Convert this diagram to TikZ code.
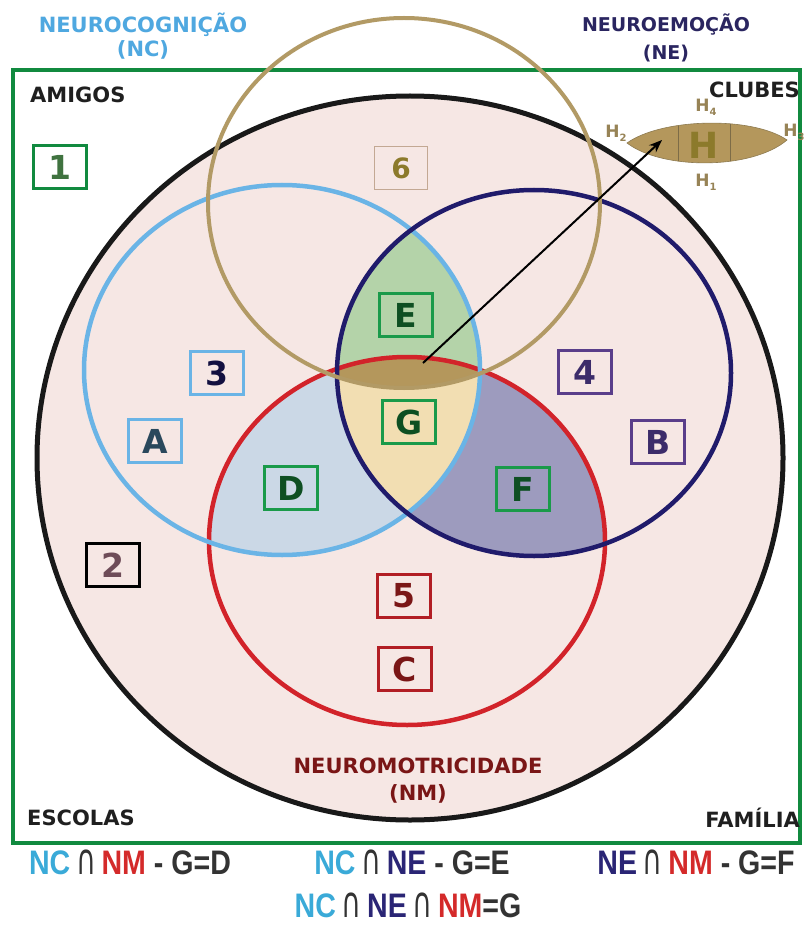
\documentclass[tikz,border=0pt]{standalone}
\usepackage{fontspec}
\setmainfont{DejaVu Sans}
\newfontfamily\formulafont[FakeStretch=0.84]{Liberation Sans}
\newfontfamily\symfont{DejaVu Sans}
\usetikzlibrary{arrows.meta}

% palette
\definecolor{pinkbg}{HTML}{F6E7E4}
\definecolor{dfill}{HTML}{CBD8E6}
\definecolor{ffill}{HTML}{9D9BBE}
\definecolor{efill}{HTML}{B4D3A9}
\definecolor{gfill}{HTML}{F2DEB2}
\definecolor{lensfill}{HTML}{B4975C}
\definecolor{ncblue}{HTML}{6AB4E6}
\definecolor{nenavy}{HTML}{201B6B}
\definecolor{nmred}{HTML}{D2232A}
\definecolor{tanring}{HTML}{B29A65}
\definecolor{framegreen}{HTML}{118A3F}
\definecolor{boxgreen}{HTML}{1A9A4A}
\definecolor{darkgreen}{HTML}{0E4F22}
\definecolor{boxpurple}{HTML}{5A3E8A}
\definecolor{darkpurple}{HTML}{3C2C6A}
\definecolor{darkred}{HTML}{7A1616}
\definecolor{olive}{HTML}{8C7A2B}
\definecolor{titleblue}{HTML}{4FA8E0}
\definecolor{titlenavy}{HTML}{2A2560}
\definecolor{formgray}{HTML}{333333}
\definecolor{formblue}{HTML}{3AAAD8}
\definecolor{formnavy}{HTML}{2A2575}
\definecolor{formred}{HTML}{D42A2A}

% the five rings
\newcommand{\ringNC}{(282,370) ellipse [x radius=198, y radius=185]}
\newcommand{\ringNE}{(534,373) ellipse [x radius=197, y radius=183]}
\newcommand{\ringNM}{(407,541) ellipse [x radius=198, y radius=184]}
\newcommand{\ringSix}{(404,203) ellipse [x radius=196, y radius=185]}
\newcommand{\ringOuter}{(410,458) ellipse [x radius=373, y radius=362]}
% intersection sign for the formulas
\newcommand{\capsign}{{\symfont\mdseries\color{formgray}\scalebox{0.8}[1.25]{∩}}}
% small H with an index
\newcommand{\hidx}[1]{H\raisebox{-4pt}{\fontsize{10}{10}\selectfont #1}}

\begin{document}
\begin{tikzpicture}[x=1pt, y=-1pt,
  tag/.style={draw, line width=2.4pt, minimum width=53pt, minimum height=43pt,
    inner sep=0pt, font=\fontsize{33}{33}\selectfont\bfseries},
  corner/.style={font=\fontsize{21}{21}\selectfont\bfseries, text=black!88, inner sep=0pt},
  title/.style={font=\fontsize{21}{24}\selectfont\bfseries, align=center, inner sep=0pt},
  formula/.style={font=\formulafont\fontsize{34}{34}\selectfont\bfseries, text=formgray, inner sep=0pt},
  hsub/.style={font=\fontsize{17}{17}\selectfont\bfseries, text=tanring!85!black, inner sep=0pt},
  ring/.style={line width=4.5pt}
]
\useasboundingbox (0,0) rectangle (803,925);
\fill[white] (0,0) rectangle (803,925);

% background of the outer ring
\fill[pinkbg] \ringOuter;

% overlaps
\begin{scope}\clip \ringNC; \fill[dfill] \ringNM; \end{scope}
\begin{scope}\clip \ringNE; \fill[ffill] \ringNM; \end{scope}
\begin{scope}\clip \ringNC; \fill[efill] \ringNE; \end{scope}
\begin{scope}\clip \ringNC; \clip \ringNE; \fill[gfill] \ringNM; \end{scope}
\begin{scope}\clip \ringNC; \clip \ringNE; \clip \ringNM; \fill[lensfill] \ringSix; \end{scope}

% frame
\draw[framegreen, line width=4pt] (13,70) rectangle (800,843);

% outlines
\draw[black!90, line width=5pt] \ringOuter;
\draw[ring, nmred] \ringNM;
\draw[ring, ncblue] \ringNC;
\draw[ring, nenavy] \ringNE;
\draw[tanring, line width=4pt] \ringSix;

% titles
\node[title, text=titleblue] (nc) at (143,36) {NEUROCOGNIÇÃO\\(NC)};
\node[title, text=titlenavy, font=\fontsize{19}{28}\selectfont\bfseries] (ne) at (666,38) {NEUROEMOÇÃO\\(NE)};
\node[title, text=darkred, font=\fontsize{21}{27}\selectfont\bfseries] (nm) at (418,781) {NEUROMOTRICIDADE\\(NM)};

% corner labels
\node[corner, anchor=west] (amigos) at (30,95) {AMIGOS};
\node[corner, anchor=east] (clubes) at (800,90) {CLUBES};
\node[corner, anchor=west] (escolas) at (27,818) {ESCOLAS};
\node[corner, anchor=east] (familia) at (800,818) {FAMÍLIA};

% region tags
\node[tag, framegreen, text=black!60!green!50!gray] (t1) at (60,167) {1};
\node[tag, draw=black!20!pinkbg!70!brown, line width=1pt, text=olive, font=\fontsize{28}{28}\selectfont\bfseries] (t6) at (401,168) {6};
\node[tag, ncblue, text=nenavy!60!black] (t3) at (217,373) {3};
\node[tag, ncblue, text=ncblue!40!black] (tA) at (155,441) {A};
\node[tag, black, text=black!75!purple!70] (t2) at (113,565) {2};
\node[tag, boxgreen, text=darkgreen] (tE) at (406,315) {E};
\node[tag, boxgreen, text=darkgreen] (tG) at (409,422) {G};
\node[tag, boxgreen, text=darkgreen] (tD) at (291,488) {D};
\node[tag, boxgreen, text=darkgreen] (tF) at (523,489) {F};
\node[tag, boxpurple, text=darkpurple] (t4) at (585,372) {4};
\node[tag, boxpurple, text=darkpurple] (tB) at (658,442) {B};
\node[tag, nmred!85!black, text=darkred] (t5) at (404,596) {5};
\node[tag, nmred!85!black, text=darkred] (tC) at (405,669) {C};

% the H spindle
\begin{scope}
  \clip (627,143) .. controls (662,118) and (752,116) .. (787,140)
        .. controls (752,170) and (662,170) .. (627,143) -- cycle;
  \fill[lensfill] (600,100) rectangle (800,180);
  \draw[tanring!70!black, line width=0.8pt] (678,100) -- (678,180) (730,100) -- (730,180);
\end{scope}
\draw[tanring!80!black, line width=0.6pt]
  (627,143) .. controls (662,118) and (752,116) .. (787,140)
  .. controls (752,170) and (662,170) .. (627,143) -- cycle;
\node[text=olive, font=\fontsize{36}{36}\selectfont\bfseries, inner sep=0pt] (hmain) at (704,145) {H};
\node[hsub] (h4) at (706,107) {\hidx{4}};
\node[hsub] (h2) at (616,133) {\hidx{2}};
\node[hsub] (h3) at (794,132) {\hidx{3}};
\node[hsub] (h1) at (706,182) {\hidx{1}};

% pointer from the brown lens to the spindle
\coordinate (lensmark) at (423,363);
\coordinate (htip) at (662,140);
\draw[black, line width=2pt, -{Stealth[length=13pt, width=10pt]}] (lensmark) -- (htip);

% intersection formulas
\node[formula] (f1) at (130,862) {\textcolor{formblue}{NC}\,\capsign\,\textcolor{formred}{NM} - G=D};
\node[formula] (f2) at (412,862) {\textcolor{formblue}{NC}\,\capsign\,\textcolor{formnavy}{NE} - G=E};
\node[formula] (f3) at (696,862) {\textcolor{formnavy}{NE}\,\capsign\,\textcolor{formred}{NM} - G=F};
\node[formula] (f4) at (408,905) {\textcolor{formblue}{NC}\,\capsign\,\textcolor{formnavy}{NE}\,\capsign\,\textcolor{formred}{NM}=G};
\end{tikzpicture}
\end{document}
